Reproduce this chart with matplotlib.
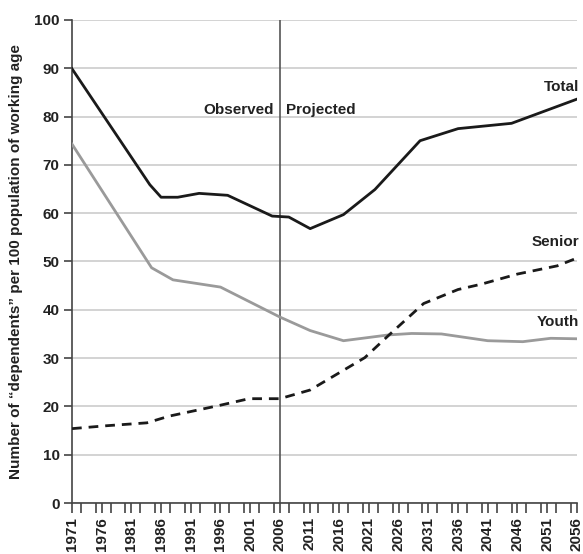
import matplotlib
matplotlib.use("Agg")
import matplotlib.pyplot as plt
from matplotlib.ticker import MultipleLocator

plt.rcParams['font.family'] = ['Liberation Sans', 'DejaVu Sans']

# values
total_years = [1971, 1984.1, 1986, 1988.8, 1992.4, 1997.2, 2004.7, 2007.5, 2011.1, 2016.7, 2022, 2029.6, 2036, 2045, 2056]
total_vals = [89.9, 65.9, 63.3, 63.3, 64.1, 63.7, 59.4, 59.2, 56.8, 59.7, 64.9, 75.0, 77.5, 78.6, 83.6]

youth_years = [1971, 1984.4, 1988, 1996, 2006, 2011.1, 2016.7, 2024.3, 2028.2, 2033.2, 2041, 2046.9, 2051.6, 2056]
youth_vals = [74.3, 48.7, 46.2, 44.7, 38.5, 35.7, 33.6, 34.8, 35.1, 35.0, 33.6, 33.4, 34.1, 34.0]

senior_years = [1971, 1976.8, 1983.6, 1987.4, 1995.8, 2000.8, 2006, 2011.1, 2020.3, 2024.3, 2030.2, 2036, 2039.9, 2046, 2052.7, 2056]
senior_vals = [15.4, 16.0, 16.6, 18.0, 20.2, 21.6, 21.6, 23.4, 30.1, 34.7, 41.3, 44.2, 45.3, 47.4, 49.1, 50.7]

tick_years = list(range(1971, 2057, 5))
split_year = 2006

fig = plt.figure(figsize=(5.83, 5.54), dpi=100)
ax = fig.add_axes([0.1235, 0.092, 0.866, 0.872])

ax.plot(total_years, total_vals, color='#1a1a1a', linewidth=2, zorder=3)
ax.plot(youth_years, youth_vals, color='#9a9a9a', linewidth=2, zorder=3)
ax.plot(senior_years, senior_vals, color='#1a1a1a', linewidth=2, dashes=(3.5, 2.5), zorder=3)
ax.axvline(split_year, color='#555555', linewidth=1.2, zorder=2)

ax.set_xlim(1971, 2056)
ax.set_ylim(0, 100)
ax.set_xticks(tick_years)
ax.set_xticklabels([str(y) for y in tick_years], rotation=90, fontsize=11, fontweight='bold', color='#222222')
ax.xaxis.set_minor_locator(MultipleLocator(2.5))
ax.set_yticks(range(0, 101, 10))
ax.tick_params(axis='y', labelsize=11, length=6, width=1.2, color='#444444', labelcolor='#222222', pad=3)
for lab in ax.get_yticklabels():
    lab.set_fontweight('bold')
ax.tick_params(axis='x', which='both', length=7.2, width=1.2, color='#444444', direction='out', pad=3)

ax.grid(axis='y', color='#c8c8c8', linewidth=1.1, zorder=1)
ax.set_axisbelow(True)
for s in ['top', 'right']:
    ax.spines[s].set_visible(False)
for s in ['left', 'bottom']:
    ax.spines[s].set_color('#444444')
    ax.spines[s].set_linewidth(1.2)

ax.set_ylabel('Number of \u201cdependents\u201d per 100 population of working age',
              fontsize=11, fontweight='bold', color='#222222', labelpad=8)

ax.text(2005.0, 81.4, 'Observed', ha='right', va='center', fontsize=11, fontweight='bold', color='#222222')
ax.text(2007.1, 81.4, 'Projected', ha='left', va='center', fontsize=11, fontweight='bold', color='#222222')
ax.text(2056.4, 86.2, 'Total', ha='right', va='center', fontsize=11, fontweight='bold', color='#222222', clip_on=False)
ax.text(2056.4, 54.0, 'Senior', ha='right', va='center', fontsize=11, fontweight='bold', color='#222222', clip_on=False)
ax.text(2056.4, 37.4, 'Youth', ha='right', va='center', fontsize=11, fontweight='bold', color='#222222', clip_on=False)

fig.savefig('out.png', dpi=100)
